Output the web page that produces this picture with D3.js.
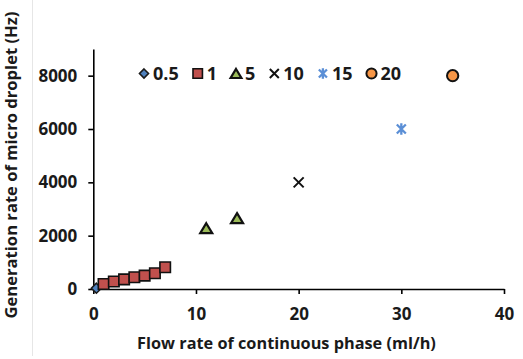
<!DOCTYPE html>
<html>
<head>
<meta charset="utf-8">
<script src="https://cdn.jsdelivr.net/npm/d3@7"></script>
<style>
  html, body { margin: 0; padding: 0; background: #fff; }
  svg text { font-family: "Open Sans", "Noto Sans", sans-serif; font-weight: 700; fill: #1a1a1a; }
</style>
</head>
<body>
<svg id="chart" width="523" height="359"></svg>
<script>
// ---- data ----
const seriesNames = ["0.5", "1", "5", "10", "15", "20"];
const x05 = [0.3];           const y05 = [30];
const x1  = [1, 2, 3, 4, 5, 6, 7];
const y1  = [190, 280, 360, 440, 500, 590, 815];
const x5  = [11, 14];        const y5  = [2280, 2660];
const x10 = [20];            const y10 = [4000];
const x15 = [30];            const y15 = [6000];
const x20 = [35];            const y20 = [8000];
const xTicks = [0, 10, 20, 30, 40];
const yTicks = [0, 2000, 4000, 6000, 8000];
const xTitle = "Flow rate of continuous phase (ml/h)";
const yTitle = "Generation rate of micro droplet (Hz)";

// ---- layout ----
const W = 523, H = 359;
const margin = { left: 93.3, right: 19, top: 49, bottom: 70 };
const svg = d3.select("#chart");

const x = d3.scaleLinear().domain([0, 40]).range([margin.left, W - margin.right]);
const y = d3.scaleLinear().domain([0, 9000]).range([H - margin.bottom, margin.top]);

// faint chart-area border
svg.append("line").attr("x1", 32.5).attr("x2", 32.5).attr("y1", 0).attr("y2", 356)
  .attr("stroke", "#e6e6e6").attr("stroke-width", 1);

// axes
const xAxis = svg.append("g").attr("transform", `translate(0,${y(0)})`)
  .call(d3.axisBottom(x).tickValues(xTicks).tickFormat(d3.format("d"))
    .tickSize(5).tickSizeOuter(0).tickPadding(14));
const yAxis = svg.append("g").attr("transform", `translate(${x(0)},0)`)
  .call(d3.axisLeft(y).tickValues(yTicks).tickFormat(d3.format("d"))
    .tickSize(5).tickSizeOuter(0).tickPadding(11));
[xAxis, yAxis].forEach(g => {
  g.selectAll("path.domain").attr("stroke", "#000").attr("stroke-width", 1.6);
  g.selectAll(".tick line").attr("stroke", "#000").attr("stroke-width", 1.6);
  g.selectAll(".tick text").style("font-size", "17px").attr("fill", "#1a1a1a")
    .style("font-family", "'Open Sans', sans-serif").style("font-weight", 700);
});

// axis titles
svg.append("text").attr("x", 286.5).attr("y", 349).attr("text-anchor", "middle")
  .style("font-size", "16.3px").text(xTitle);
svg.append("text").attr("transform", `translate(17,165) rotate(-90)`).attr("text-anchor", "middle")
  .style("font-size", "16.6px").text(yTitle);

// marker drawing
const diamondPath = r => `M0,${-r}L${r},0L0,${r}L${-r},0Z`;
const trianglePath = r => `M0,${-r}L${r * 1.2},${r}L${-r * 1.2},${r}Z`;
const starPath = r => `M${-r},${-r}L${r},${r}M${-r},${r}L${r},${-r}M0,${-r * 1.3}L0,${r * 1.3}`;
const timesPath = r => `M${-r},${-r}L${r},${r}M${-r},${r}L${r},${-r}`;
const styles = {
  "0.5": { d: diamondPath(5), fill: "#4f81bd", stroke: "#1a1a1a", sw: 1.6 },
  "1":   { d: d3.symbol(d3.symbolSquare, 110)(), fill: "#c0504d", stroke: "#111", sw: 1.6 },
  "5":   { d: trianglePath(5), fill: "#9bbb59", stroke: "#111", sw: 2.2 },
  "10":  { d: timesPath(5), fill: "none", stroke: "#111", sw: 2 },
  "15":  { d: starPath(4.5), fill: "none", stroke: "#5b8fd6", sw: 2.3 },
  "20":  { d: d3.symbol(d3.symbolCircle, 100)(), fill: "#f79646", stroke: "#111", sw: 2 }
};
const dataSets = [
  ["0.5", x05, y05], ["1", x1, y1], ["5", x5, y5],
  ["10", x10, y10], ["15", x15, y15], ["20", x20, y20]
];
dataSets.forEach(([name, xs, ys]) => {
  const st = styles[name];
  const pts = xs.map((v, i) => [v, ys[i]]);
  svg.append("g").selectAll("path").data(pts).join("path")
    .attr("d", st.d)
    .attr("transform", d => `translate(${x(d[0])},${y(d[1])})`)
    .attr("fill", st.fill).attr("stroke", st.stroke).attr("stroke-width", st.sw)
    .attr("stroke-linejoin", "miter");
});

// legend
const legend = svg.append("g");
let lx = 144, ly = 73.5;
seriesNames.forEach(name => {
  const st = styles[name];
  const sz = 0.9;
  legend.append("path").attr("d", st.d)
    .attr("transform", `translate(${lx},${ly}) scale(${sz})`)
    .attr("fill", st.fill).attr("stroke", st.stroke).attr("stroke-width", st.sw / sz);
  const t = legend.append("text").attr("x", lx + 9).attr("y", ly).attr("dy", "0.35em")
    .style("font-size", "18px").text(name);
  const w = t.node().getComputedTextLength();
  lx = lx + 9 + w + 19;
});
</script>
</body>
</html>
